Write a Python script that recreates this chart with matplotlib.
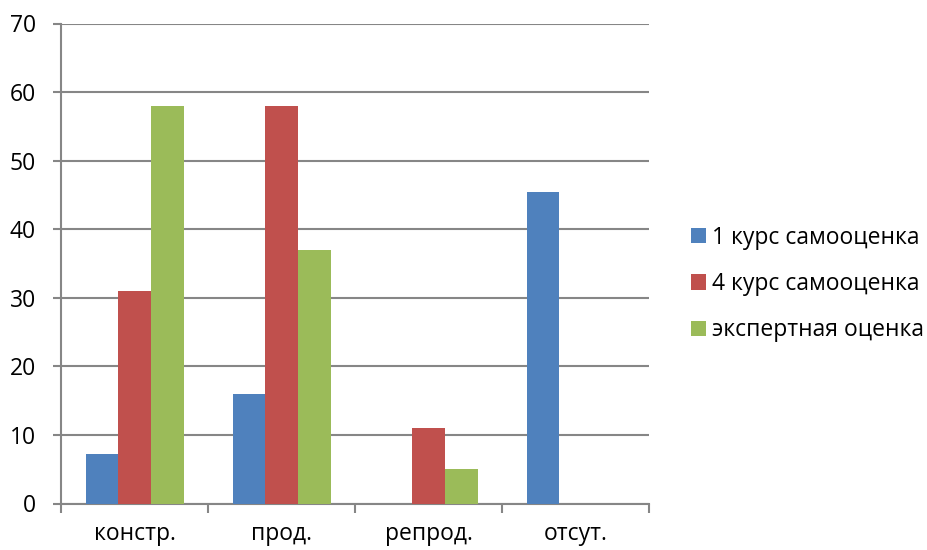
import matplotlib
matplotlib.use("Agg")
import matplotlib.pyplot as plt
import numpy as np
from matplotlib.patches import Patch

categories = ["констр.", "прод.", "репрод.", "отсут."]
series_names = ["1 курс самооценка", "4 курс самооценка", "экспертная оценка"]
s1 = [7.2, 16, 0, 45.5]
s4 = [31, 58, 11, 0]
expert = [58, 37, 5, 0]
colors = ["#4F81BD", "#C0504D", "#9BBB59"]

plt.rcParams['font.family'] = ['Open Sans', 'DejaVu Sans']
FS = 16.5

fig = plt.figure(figsize=(9.27, 5.5), dpi=100)
ax = fig.add_axes([61/927, 46.5/550, (649-61)/927, (503.5-23.5)/550])

x = np.arange(len(categories))
bw = 1/4.5
for i, (vals, c) in enumerate(zip([s1, s4, expert], colors)):
    ax.bar(x + (i-1)*bw, vals, width=bw, color=c, zorder=3)

ax.set_xlim(-0.5, 3.5)
ax.set_ylim(0, 70)
ax.set_yticks(range(0, 71, 10))
ax.grid(axis='y', color='#868686', linewidth=1.5, zorder=0)
for s in ['top', 'right']:
    ax.spines[s].set_visible(False)
for s in ['left', 'bottom']:
    ax.spines[s].set_color('#868686')
    ax.spines[s].set_linewidth(1.5)

ax.set_xticks(x)
ax.set_xticklabels(categories)
ax.tick_params(axis='x', length=0, pad=13, labelsize=FS)
ax.set_xticks(np.arange(-0.5, 4.0, 1), minor=True)
ax.tick_params(axis='x', which='minor', length=6.5, color='#868686', width=1.5)
ax.tick_params(axis='y', length=6, color='#868686', width=1.5, labelsize=FS, pad=12)

handles = [Patch(facecolor=c) for c in colors]
fig.legend(handles, series_names, loc='center left', bbox_to_anchor=(691/927, 266/550),
           frameon=False, fontsize=FS, handlelength=0.65, handleheight=0.65,
           handletextpad=0.28, labelspacing=0.98, borderpad=0, borderaxespad=0)

fig.savefig("out.png", dpi=100)
